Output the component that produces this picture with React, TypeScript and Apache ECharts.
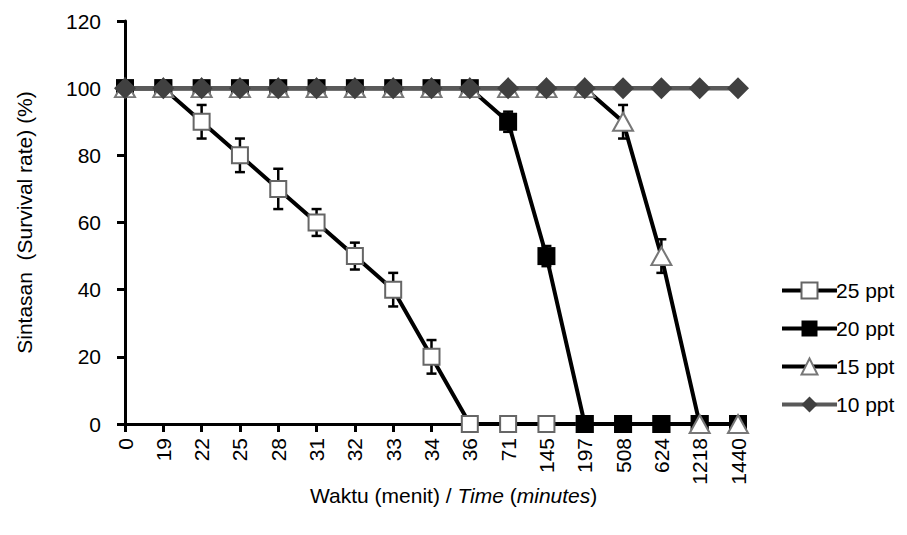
import React, { useEffect, useRef } from "react";
import * as echarts from "echarts";

const categories = ["0", "19", "22", "25", "28", "31", "32", "33", "34", "36", "71", "145", "197", "508", "624", "1218", "1440"];
const s25 = [100, 100, 90, 80, 70, 60, 50, 40, 20, 0, 0, 0, 0, 0, 0, 0, 0];
const s20 = [100, 100, 100, 100, 100, 100, 100, 100, 100, 100, 90, 50, 0, 0, 0, 0, 0];
const s15 = [100, 100, 100, 100, 100, 100, 100, 100, 100, 100, 100, 100, 100, 90, 50, 0, 0];
const s10 = [100, 100, 100, 100, 100, 100, 100, 100, 100, 100, 100, 100, 100, 100, 100, 100, 100];
const e25 = [0, 0, 5, 5, 6, 4, 4, 5, 5, 0, 0, 0, 0, 0, 0, 0, 0];
const e20 = [0, 0, 0, 0, 0, 0, 0, 0, 0, 0, 3, 3, 0, 0, 0, 0, 0];
const e15 = [0, 0, 0, 0, 0, 0, 0, 0, 0, 0, 0, 0, 0, 5, 5, 0, 0];
const yTicks = { min: 0, max: 120, interval: 20 };

const FONT = "Liberation Sans";
const FS = 21;

function errData(vals: number[], errs: number[]) {
  const out: number[][] = [];
  vals.forEach((v, i) => {
    if (errs[i] > 0) out.push([i, v - errs[i], v + errs[i]]);
  });
  return out;
}

export default function App() {
  const ref = useRef<HTMLDivElement>(null);
  useEffect(() => {
    if (!ref.current) return;
    const chart = echarts.init(ref.current, null, { renderer: "svg" });
    const renderErr = (params: any, api: any) => {
      const x = api.value(0);
      const lo = api.coord([x, api.value(1)]);
      const hi = api.coord([x, api.value(2)]);
      const cap = 5;
      const st = { stroke: "#000", lineWidth: 2.5 };
      return {
        type: "group",
        children: [
          { type: "line", shape: { x1: lo[0], y1: lo[1], x2: hi[0], y2: hi[1] }, style: st },
          { type: "line", shape: { x1: lo[0] - cap, y1: lo[1], x2: lo[0] + cap, y2: lo[1] }, style: st },
          { type: "line", shape: { x1: hi[0] - cap, y1: hi[1], x2: hi[0] + cap, y2: hi[1] }, style: st },
        ],
      };
    };
    const errSeries = (d: number[][]) => ({
      type: "custom",
      renderItem: renderErr,
      data: d,
      z: 1,
      silent: true,
      encode: { x: 0, y: [1, 2] },
    });
    chart.setOption({
      animation: false,
      backgroundColor: "#fff",
      textStyle: { fontFamily: FONT },
      grid: { left: 125, right: 169, top: 21, bottom: 111, containLabel: false },
      legend: {
        orient: "vertical",
        left: 775,
        top: 275,
        itemWidth: 55,
        itemHeight: 20,
        itemGap: 17,
        lineStyle: { width: 4 },
        textStyle: { fontSize: FS, color: "#000", fontFamily: FONT, padding: [0, 0, 0, -6] },
        data: ["25 ppt", "20 ppt", "15 ppt", "10 ppt"],
      },
      xAxis: {
        type: "category",
        data: categories,
        boundaryGap: false,
        axisLine: { lineStyle: { color: "#000", width: 3 } },
        axisTick: { alignWithLabel: true, length: 8, lineStyle: { color: "#000", width: 3 } },
        axisLabel: { rotate: 90, fontSize: FS, color: "#000", margin: 14, fontFamily: FONT, interval: 0 },
        splitLine: { show: false },
      },
      yAxis: {
        type: "value",
        min: yTicks.min,
        max: yTicks.max,
        interval: yTicks.interval,
        name: "Sintasan  (Survival rate) (%)",
        nameLocation: "middle",
        nameGap: 90,
        nameTextStyle: { fontSize: FS, color: "#000", fontFamily: FONT },
        axisLine: { show: true, lineStyle: { color: "#000", width: 3 } },
        axisTick: { show: true, length: 8, lineStyle: { color: "#000", width: 3 } },
        axisLabel: { fontSize: FS, color: "#000", margin: 24, fontFamily: FONT },
        splitLine: { show: false },
      },
      graphic: [
        {
          type: "text",
          left: 310,
          top: 485,
          style: {
            text: "{n|Waktu (menit) / }{i|Time}{n| (}{i|minutes}{n|)}",
            rich: {
              n: { fontSize: FS, fill: "#000", fontFamily: FONT },
              i: { fontSize: FS, fill: "#000", fontStyle: "italic", fontFamily: FONT },
            },
          },
        },
      ],
      series: [
        errSeries(errData(s25, e25)),
        errSeries(errData(s20, e20)),
        errSeries(errData(s15, e15)),
        {
          name: "25 ppt",
          type: "line",
          data: s25,
          z: 2,
          symbol: "rect",
          symbolSize: 16,
          lineStyle: { color: "#000", width: 4 },
          itemStyle: { color: "#fff", borderColor: "#666", borderWidth: 2 },
        },
        {
          name: "20 ppt",
          type: "line",
          data: s20,
          z: 3,
          symbol: "rect",
          symbolSize: 18,
          lineStyle: { color: "#000", width: 4 },
          itemStyle: { color: "#000", borderColor: "#000", borderWidth: 0 },
        },
        {
          name: "15 ppt",
          type: "line",
          data: s15,
          z: 4,
          symbol: "triangle",
          symbolSize: [20, 18],
          lineStyle: { color: "#000", width: 4 },
          itemStyle: { color: "#fff", borderColor: "#777", borderWidth: 2 },
        },
        {
          name: "10 ppt",
          type: "line",
          data: s10,
          z: 5,
          symbol: "diamond",
          symbolSize: 22,
          lineStyle: { color: "#595959", width: 4.5 },
          itemStyle: { color: "#404040", borderColor: "#404040", borderWidth: 0 },
        },
      ],
    });
    return () => chart.dispose();
  }, []);
  return <div ref={ref} style={{ width: 907, height: 535, position: "absolute", left: 0, top: 0 }} />;
}
